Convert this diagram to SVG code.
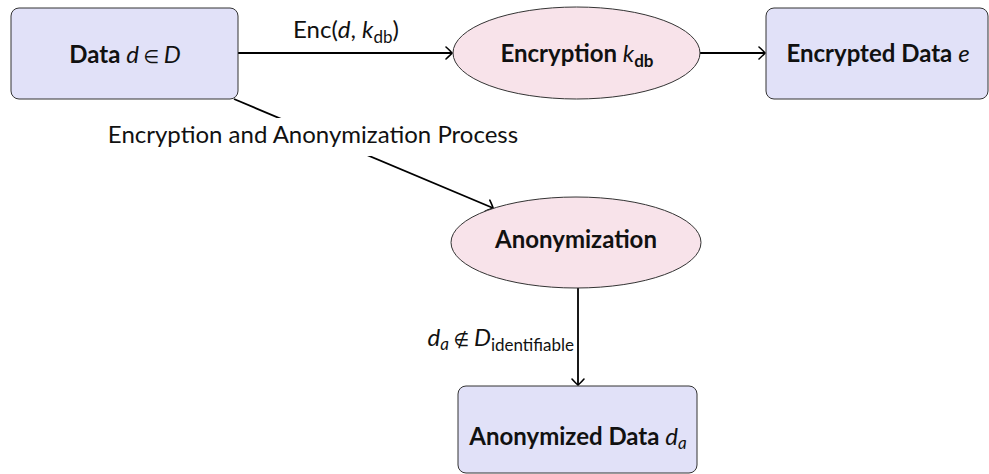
<svg xmlns="http://www.w3.org/2000/svg" width="989" height="474" viewBox="0 0 989 474">
<style>
text{font-family:Lato,"Noto Sans","DejaVu Sans",sans-serif;font-size:24px;fill:#111}
.b{font-weight:bold}
.i{font-style:italic;font-weight:normal}
.s{font-size:17px}
.m{font-size:18px}
.box{fill:#e1e1f8;stroke:#333;stroke-width:1}
.ell{fill:#f8e3ea;stroke:#333;stroke-width:1}
.edge{fill:none;stroke:#000;stroke-width:1.8}
</style>
<defs>
<marker id="to" markerUnits="userSpaceOnUse" markerWidth="16" markerHeight="16" viewBox="-10 -8 12 16" refX="0" refY="0" orient="auto">
<path d="M-6,-6 Q-1,-1.5 0,0 Q-1,1.5 -6,6" fill="none" stroke="#000" stroke-width="1.6" stroke-linecap="round"/>
</marker>
</defs>
<g id="connectors">
<line class="edge" x1="238" y1="53" x2="452" y2="53" marker-end="url(#to)"/>
<text x="346" y="38" text-anchor="middle">Enc(<tspan class="i">d</tspan>, <tspan class="i">k</tspan><tspan class="s" dy="5">db</tspan><tspan dy="-5">)</tspan></text>
<line class="edge" x1="700" y1="53" x2="765" y2="53" marker-end="url(#to)"/>
<line class="edge" x1="234" y1="99" x2="493" y2="208" marker-end="url(#to)"/>
<rect x="106" y="118" width="416" height="38" fill="#fff"/>
<text x="313" y="143" text-anchor="middle">Encryption and Anonymization Process</text>
<line class="edge" x1="578" y1="288" x2="578" y2="385" marker-end="url(#to)"/>
<text x="574" y="346" text-anchor="end"><tspan class="i">d</tspan><tspan class="i s" dy="4">a</tspan><tspan class="m" dy="-4"> ∉ </tspan><tspan class="i">D</tspan><tspan class="s" dy="5">identifiable</tspan></text>
</g>
<g id="data">
<rect class="box" x="11" y="8" width="227" height="91" rx="8"/>
<text x="125" y="63" text-anchor="middle"><tspan class="b">Data </tspan><tspan class="i">d</tspan><tspan class="m"> ∈ </tspan><tspan class="i">D</tspan></text>
</g>
<g id="encryption">
<ellipse class="ell" cx="576.5" cy="53" rx="123.5" ry="46"/>
<text x="577" y="62" text-anchor="middle"><tspan class="b">Encryption </tspan><tspan class="i">k</tspan><tspan class="b s" dy="5">db</tspan></text>
</g>
<g id="encrypted">
<rect class="box" x="766" y="8" width="222" height="91" rx="8"/>
<text x="878" y="62" text-anchor="middle"><tspan class="b">Encrypted Data </tspan><tspan class="i">e</tspan></text>
</g>
<g id="anonymization">
<ellipse class="ell" cx="576" cy="242.5" rx="125" ry="45.5"/>
<text x="576" y="248" text-anchor="middle" class="b">Anonymization</text>
</g>
<g id="anonymized">
<rect class="box" x="458" y="386" width="239" height="87" rx="8"/>
<text x="578" y="445" text-anchor="middle"><tspan class="b">Anonymized Data </tspan><tspan class="i">d</tspan><tspan class="i s" dy="4">a</tspan></text>
</g>
</svg>
